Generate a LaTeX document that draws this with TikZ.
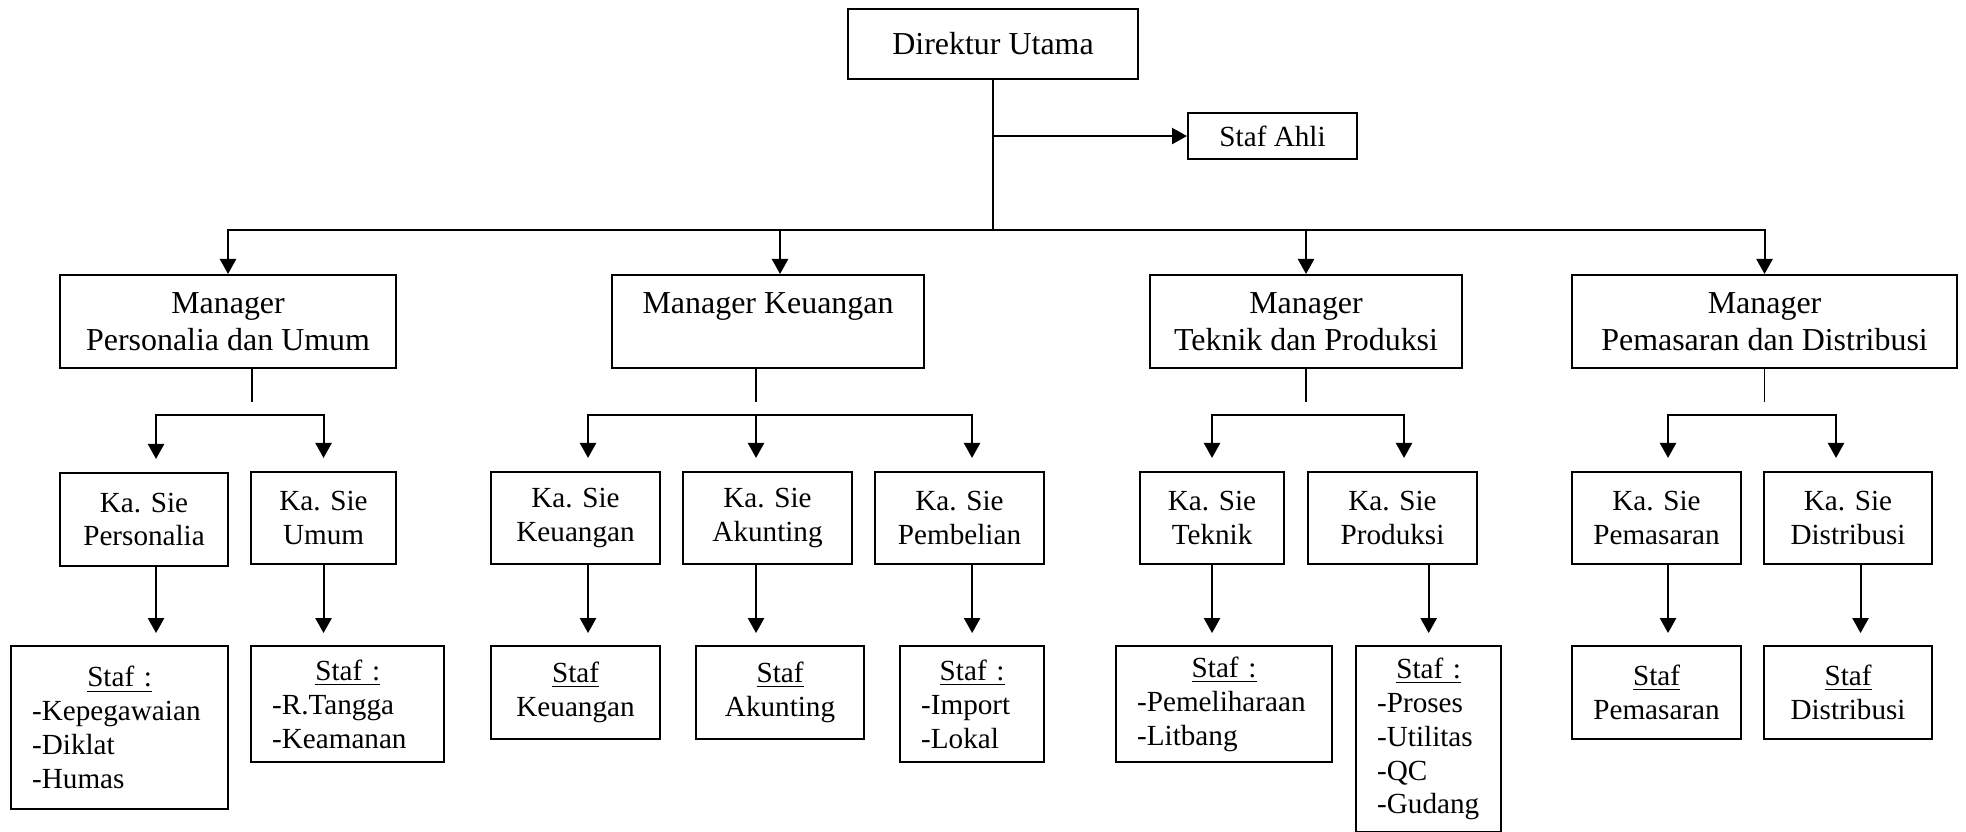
\documentclass[tikz,border=0pt]{standalone}
\usepackage{fontspec}
\setmainfont{Liberation Serif}
\usetikzlibrary{arrows.meta,calc}

\newcommand{\stafhead}{\makebox[\linewidth]{\underline{Staf :}}}

\tikzset{
  orgbox/.style={draw, line width=0.75pt, anchor=north west, inner sep=0pt,
    align=center, font=\fontsize{10.5}{12.2}\selectfont},
  big/.style={font=\fontsize{11.5}{13.4}\selectfont},
  wh/.style 2 args={minimum width=#1*0.36pt, minimum height=#2*0.36pt},
  stafbox/.style={orgbox, align=left, inner xsep=7.6pt},
  line/.style={line width=0.75pt},
  trunk/.style={line width=0.6pt},
  arr/.style={line, -{Triangle[length=5.4pt,width=5.8pt]}},
}

\begin{document}
\begin{tikzpicture}[x=0.36pt, y=-0.36pt]
\useasboundingbox (0,0) rectangle (1966,832);

% top
\node[orgbox, big, wh={290}{70}] (dirut) at (847,8) {Direktur Utama};
\node[orgbox, wh={169}{46}] (ahli) at (1187,112) {Staf Ahli};

% managers
\node[orgbox, big, wh={336}{93}] (mpu) at (59,274) {Manager\\Personalia dan Umum};
\node[orgbox, big, wh={312}{93}] (mku) at (611,274) {Manager Keuangan\\\mbox{}};
\node[orgbox, big, wh={312}{93}] (mtp) at (1149,274) {Manager\\Teknik dan Produksi};
\node[orgbox, big, wh={385}{93}] (mpd) at (1571,274) {Manager\\Pemasaran dan Distribusi};

% kepala seksi
\node[orgbox, wh={168}{93}] (kpers) at (59,472) {Ka. Sie\\Personalia};
\node[orgbox, wh={145}{92}] (kumum) at (250,471) {Ka. Sie\\Umum};
\node[orgbox, wh={169}{92}] (kkeu) at (490,471) {Ka. Sie\\Keuangan};
\node[orgbox, wh={169}{92}] (kakun) at (682,471) {Ka. Sie\\Akunting};
\node[orgbox, wh={169}{92}] (kpemb) at (874,471) {Ka. Sie\\Pembelian};
\node[orgbox, wh={144}{92}] (ktek) at (1139,471) {Ka. Sie\\Teknik};
\node[orgbox, wh={169}{92}] (kprod) at (1307,471) {Ka. Sie\\Produksi};
\node[orgbox, wh={169}{92}] (kpem) at (1571,471) {Ka. Sie\\Pemasaran};
\node[orgbox, wh={168}{92}] (kdis) at (1763,471) {Ka. Sie\\Distribusi};

% staf
\node[stafbox, wh={217}{163}, text width=63pt] (spers) at (10,645)
  {\stafhead\\-Kepegawaian\\-Diklat\\-Humas};
\node[stafbox, wh={193}{116}, text width=54.4pt] (sumum) at (250,645)
  {\stafhead\\-R.Tangga\\-Keamanan};
\node[orgbox, wh={169}{93}] (skeu) at (490,645) {\underline{Staf}\\Keuangan};
\node[orgbox, wh={168}{93}] (sakun) at (695,645) {\underline{Staf}\\Akunting};
\node[stafbox, wh={144}{116}, text width=36.7pt] (spemb) at (899,645)
  {\stafhead\\-Import\\-Lokal};
\node[stafbox, wh={216}{116}, text width=62.6pt] (stek) at (1115,645)
  {\stafhead\\-Pemeliharaan\\-Litbang};
\node[stafbox, wh={145}{186}, text width=37.1pt] (sprod) at (1355,645)
  {\stafhead\\-Proses\\-Utilitas\\-QC\\-Gudang};
\node[orgbox, wh={169}{93}] (spem) at (1571,645) {\underline{Staf}\\Pemasaran};
\node[orgbox, wh={168}{93}] (sdis) at (1763,645) {\underline{Staf}\\Distribusi};

% direktur to managers
\coordinate (bus) at ($(dirut.south)+(0,150)$);
\draw[trunk] (dirut.south) -- (bus);
\draw[arr] (dirut.south |- ahli.west) -- (ahli.west);
\draw[arr] (bus) -| (mpu.north);
\draw[arr] (bus) -| (mpd.north);
\draw[arr] ($(mku.north |- bus)+(12,0)$) -- ($(mku.north)+(12,0)$);
\draw[arr] (mtp.north |- bus) -- (mtp.north);

% managers to kepala seksi
\begin{scope}[shorten >=4.7pt]
  \coordinate (jpu) at ($(mpu.south)+(24,46)$);
  \draw[trunk] (mpu.south -| jpu) -- (jpu);
  \draw[arr] (jpu) -| ($(kpers.north)+(12,0)$);
  \draw[arr] (jpu) -| (kumum.north);

  \coordinate (jku) at ($(mku.south)+(-12,46)$);
  \draw[trunk] (mku.south -| jku) -- (jku);
  \draw[arr] (jku) -| ($(kkeu.north)+(12.5,0)$);
  \draw[arr] (jku) -- (jku |- kakun.north);
  \draw[arr] (jku) -| ($(kpemb.north)+(12.5,0)$);

  \coordinate (jtp) at ($(mtp.south)+(0,46)$);
  \draw[trunk] (mtp.south) -- (jtp);
  \draw[arr] (jtp) -| (ktek.north);
  \draw[arr] (jtp) -| ($(kprod.north)+(11.5,0)$);

  \coordinate (jpd) at ($(mpd.south)+(0,46)$);
  \draw[trunk] (mpd.south) -- (jpd);
  \draw[arr] (jpd) -| ($(kpem.north)+(11.5,0)$);
  \draw[arr] (jpd) -| ($(kdis.north)+(-12,0)$);
\end{scope}

% kepala seksi to staf
\begin{scope}[shorten >=4.3pt]
  \draw[arr] ($(kpers.south)+(12,0)$) coordinate (a1) -- (a1 |- spers.north);
  \draw[arr] (kumum.south) -- (kumum.south |- sumum.north);
  \draw[arr] ($(kkeu.south)+(12.5,0)$) coordinate (a3) -- (a3 |- skeu.north);
  \draw[arr] ($(kakun.south)+(-11.5,0)$) coordinate (a4) -- (a4 |- sakun.north);
  \draw[arr] (kpemb.south -| spemb.north) -- (spemb.north);
  \draw[arr] (ktek.south) -- (ktek.south |- stek.north);
  \draw[arr] (kprod.south -| sprod.north) -- (sprod.north);
  \draw[arr] ($(kpem.south)+(11.5,0)$) coordinate (a8) -- (a8 |- spem.north);
  \draw[arr] ($(kdis.south)+(12.5,0)$) coordinate (a9) -- (a9 |- sdis.north);
\end{scope}

\end{tikzpicture}
\end{document}
